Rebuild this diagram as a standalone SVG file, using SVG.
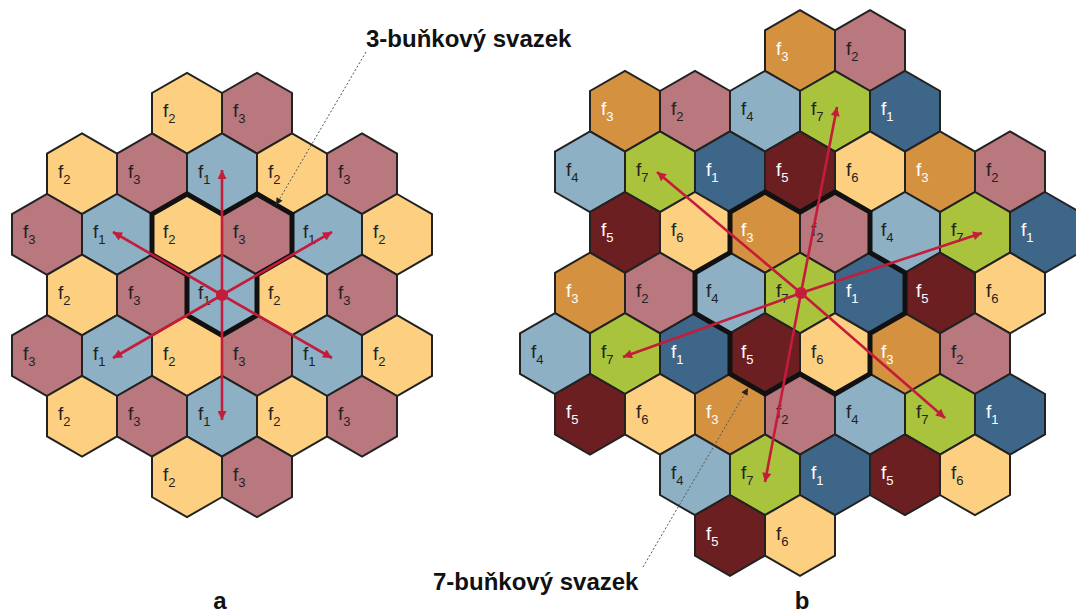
<svg xmlns="http://www.w3.org/2000/svg" xmlns:xlink="http://www.w3.org/1999/xlink" width="1076" height="616" viewBox="0 0 1076 616">
<style>
.hx{stroke:#222;stroke-width:2;stroke-linejoin:miter}
.c1a{fill:#8DB0C5}.c2a{fill:#FDD081}.c3a{fill:#B9777E}
.k1{fill:#3E6689}.k2{fill:#B9777E}.k3{fill:#D4913F}.k4{fill:#8DB0C5}.k5{fill:#6B1F20}.k6{fill:#FDD081}.k7{fill:#A9C33D}
text.l{font-family:"Liberation Sans",Arial,sans-serif;font-size:19px;fill:#222}
text.w{fill:#fff}
.sub{font-size:13px}
.cl{fill:none;stroke:#111;stroke-width:5;stroke-linejoin:miter}
.ar{stroke:#C41C3B;stroke-width:2.6;fill:none}
.ld{stroke:#555;stroke-width:1;stroke-dasharray:2 2;fill:none}
.cap{font-family:"Liberation Sans",Arial,sans-serif;font-weight:bold;font-size:24px;fill:#111}
</style>
<defs>
<path id="hx" d="M0,-40.4 L35,-20.2 L35,20.2 L0,40.4 L-35,20.2 L-35,-20.2 Z"/>
<marker id="ah" viewBox="0 0 10 10" refX="10" refY="5" markerWidth="13" markerHeight="9" markerUnits="userSpaceOnUse" orient="auto"><path d="M0,0 L10,5 L0,10 Z" fill="#C41C3B"/></marker>
<marker id="lh" viewBox="0 0 10 10" refX="10" refY="5" markerWidth="8" markerHeight="7" markerUnits="userSpaceOnUse" orient="auto"><path d="M0,0 L10,5 L0,10 Z" fill="#222"/></marker>
</defs>
<rect width="1076" height="616" fill="#fff"/>

<!-- Grid a -->
<g id="grid-a">
<g id="a1"><use href="#hx" x="187" y="113.2" class="hx c2a"/><text class="l" x="163" y="117">f<tspan class="sub" dy="6">2</tspan></text></g>
<g id="a2"><use href="#hx" x="257" y="113.2" class="hx c3a"/><text class="l" x="233" y="117">f<tspan class="sub" dy="6">3</tspan></text></g>

<g id="a3"><use href="#hx" x="82" y="173.8" class="hx c2a"/><text class="l" x="58" y="178">f<tspan class="sub" dy="6">2</tspan></text></g>
<g id="a4"><use href="#hx" x="152" y="173.8" class="hx c3a"/><text class="l" x="128" y="178">f<tspan class="sub" dy="6">3</tspan></text></g>
<g id="a5"><use href="#hx" x="222" y="173.8" class="hx c1a"/><text class="l" x="198" y="178">f<tspan class="sub" dy="6">1</tspan></text></g>
<g id="a6"><use href="#hx" x="292" y="173.8" class="hx c2a"/><text class="l" x="268" y="178">f<tspan class="sub" dy="6">2</tspan></text></g>
<g id="a7"><use href="#hx" x="362" y="173.8" class="hx c3a"/><text class="l" x="338" y="178">f<tspan class="sub" dy="6">3</tspan></text></g>

<g id="a8"><use href="#hx" x="47" y="234.4" class="hx c3a"/><text class="l" x="23" y="238">f<tspan class="sub" dy="6">3</tspan></text></g>
<g id="a9"><use href="#hx" x="117" y="234.4" class="hx c1a"/><text class="l" x="93" y="238">f<tspan class="sub" dy="6">1</tspan></text></g>
<g id="a10"><use href="#hx" x="187" y="234.4" class="hx c2a"/><text class="l" x="163" y="238">f<tspan class="sub" dy="6">2</tspan></text></g>
<g id="a11"><use href="#hx" x="257" y="234.4" class="hx c3a"/><text class="l" x="233" y="238">f<tspan class="sub" dy="6">3</tspan></text></g>
<g id="a12"><use href="#hx" x="327" y="234.4" class="hx c1a"/><text class="l" x="303" y="238">f<tspan class="sub" dy="6">1</tspan></text></g>
<g id="a13"><use href="#hx" x="397" y="234.4" class="hx c2a"/><text class="l" x="373" y="238">f<tspan class="sub" dy="6">2</tspan></text></g>

<g id="a14"><use href="#hx" x="82" y="295" class="hx c2a"/><text class="l" x="58" y="299">f<tspan class="sub" dy="6">2</tspan></text></g>
<g id="a15"><use href="#hx" x="152" y="295" class="hx c3a"/><text class="l" x="128" y="299">f<tspan class="sub" dy="6">3</tspan></text></g>
<g id="a16"><use href="#hx" x="222" y="295" class="hx c1a"/><text class="l" x="198" y="299">f<tspan class="sub" dy="6">1</tspan></text></g>
<g id="a17"><use href="#hx" x="292" y="295" class="hx c2a"/><text class="l" x="268" y="299">f<tspan class="sub" dy="6">2</tspan></text></g>
<g id="a18"><use href="#hx" x="362" y="295" class="hx c3a"/><text class="l" x="338" y="299">f<tspan class="sub" dy="6">3</tspan></text></g>

<g id="a19"><use href="#hx" x="47" y="355.6" class="hx c3a"/><text class="l" x="23" y="360">f<tspan class="sub" dy="6">3</tspan></text></g>
<g id="a20"><use href="#hx" x="117" y="355.6" class="hx c1a"/><text class="l" x="93" y="360">f<tspan class="sub" dy="6">1</tspan></text></g>
<g id="a21"><use href="#hx" x="187" y="355.6" class="hx c2a"/><text class="l" x="163" y="360">f<tspan class="sub" dy="6">2</tspan></text></g>
<g id="a22"><use href="#hx" x="257" y="355.6" class="hx c3a"/><text class="l" x="233" y="360">f<tspan class="sub" dy="6">3</tspan></text></g>
<g id="a23"><use href="#hx" x="327" y="355.6" class="hx c1a"/><text class="l" x="303" y="360">f<tspan class="sub" dy="6">1</tspan></text></g>
<g id="a24"><use href="#hx" x="397" y="355.6" class="hx c2a"/><text class="l" x="373" y="360">f<tspan class="sub" dy="6">2</tspan></text></g>

<g id="a25"><use href="#hx" x="82" y="416.2" class="hx c2a"/><text class="l" x="58" y="420">f<tspan class="sub" dy="6">2</tspan></text></g>
<g id="a26"><use href="#hx" x="152" y="416.2" class="hx c3a"/><text class="l" x="128" y="420">f<tspan class="sub" dy="6">3</tspan></text></g>
<g id="a27"><use href="#hx" x="222" y="416.2" class="hx c1a"/><text class="l" x="198" y="420">f<tspan class="sub" dy="6">1</tspan></text></g>
<g id="a28"><use href="#hx" x="292" y="416.2" class="hx c2a"/><text class="l" x="268" y="420">f<tspan class="sub" dy="6">2</tspan></text></g>
<g id="a29"><use href="#hx" x="362" y="416.2" class="hx c3a"/><text class="l" x="338" y="420">f<tspan class="sub" dy="6">3</tspan></text></g>

<g id="a30"><use href="#hx" x="187" y="476.8" class="hx c2a"/><text class="l" x="163" y="481">f<tspan class="sub" dy="6">2</tspan></text></g>
<g id="a31"><use href="#hx" x="257" y="476.8" class="hx c3a"/><text class="l" x="233" y="481">f<tspan class="sub" dy="6">3</tspan></text></g>
</g>

<!-- Grid b -->
<g id="grid-b">
<g id="b1"><use href="#hx" x="800" y="50.6" class="hx k3"/><text class="l w" x="776" y="55">f<tspan class="sub" dy="6">3</tspan></text></g>
<g id="b2"><use href="#hx" x="870" y="50.6" class="hx k2"/><text class="l" x="846" y="55">f<tspan class="sub" dy="6">2</tspan></text></g>

<g id="b3"><use href="#hx" x="625" y="111.2" class="hx k3"/><text class="l w" x="601" y="115">f<tspan class="sub" dy="6">3</tspan></text></g>
<g id="b4"><use href="#hx" x="695" y="111.2" class="hx k2"/><text class="l" x="671" y="115">f<tspan class="sub" dy="6">2</tspan></text></g>
<g id="b5"><use href="#hx" x="765" y="111.2" class="hx k4"/><text class="l" x="741" y="115">f<tspan class="sub" dy="6">4</tspan></text></g>
<g id="b6"><use href="#hx" x="835" y="111.2" class="hx k7"/><text class="l" x="811" y="115">f<tspan class="sub" dy="6">7</tspan></text></g>
<g id="b7"><use href="#hx" x="905" y="111.2" class="hx k1"/><text class="l w" x="881" y="115">f<tspan class="sub" dy="6">1</tspan></text></g>

<g id="b8"><use href="#hx" x="590" y="171.8" class="hx k4"/><text class="l" x="566" y="176">f<tspan class="sub" dy="6">4</tspan></text></g>
<g id="b9"><use href="#hx" x="660" y="171.8" class="hx k7"/><text class="l" x="636" y="176">f<tspan class="sub" dy="6">7</tspan></text></g>
<g id="b10"><use href="#hx" x="730" y="171.8" class="hx k1"/><text class="l w" x="706" y="176">f<tspan class="sub" dy="6">1</tspan></text></g>
<g id="b11"><use href="#hx" x="800" y="171.8" class="hx k5"/><text class="l w" x="776" y="176">f<tspan class="sub" dy="6">5</tspan></text></g>
<g id="b12"><use href="#hx" x="870" y="171.8" class="hx k6"/><text class="l" x="846" y="176">f<tspan class="sub" dy="6">6</tspan></text></g>
<g id="b13"><use href="#hx" x="940" y="171.8" class="hx k3"/><text class="l w" x="916" y="176">f<tspan class="sub" dy="6">3</tspan></text></g>
<g id="b14"><use href="#hx" x="1010" y="171.8" class="hx k2"/><text class="l" x="986" y="176">f<tspan class="sub" dy="6">2</tspan></text></g>

<g id="b15"><use href="#hx" x="625" y="232.4" class="hx k5"/><text class="l w" x="601" y="236">f<tspan class="sub" dy="6">5</tspan></text></g>
<g id="b16"><use href="#hx" x="695" y="232.4" class="hx k6"/><text class="l" x="671" y="236">f<tspan class="sub" dy="6">6</tspan></text></g>
<g id="b17"><use href="#hx" x="765" y="232.4" class="hx k3"/><text class="l w" x="741" y="236">f<tspan class="sub" dy="6">3</tspan></text></g>
<g id="b18"><use href="#hx" x="835" y="232.4" class="hx k2"/><text class="l" x="811" y="236">f<tspan class="sub" dy="6">2</tspan></text></g>
<g id="b19"><use href="#hx" x="905" y="232.4" class="hx k4"/><text class="l" x="881" y="236">f<tspan class="sub" dy="6">4</tspan></text></g>
<g id="b20"><use href="#hx" x="975" y="232.4" class="hx k7"/><text class="l" x="951" y="236">f<tspan class="sub" dy="6">7</tspan></text></g>
<g id="b21"><use href="#hx" x="1045" y="232.4" class="hx k1"/><text class="l w" x="1021" y="236">f<tspan class="sub" dy="6">1</tspan></text></g>

<g id="b22"><use href="#hx" x="590" y="293" class="hx k3"/><text class="l w" x="566" y="297">f<tspan class="sub" dy="6">3</tspan></text></g>
<g id="b23"><use href="#hx" x="660" y="293" class="hx k2"/><text class="l" x="636" y="297">f<tspan class="sub" dy="6">2</tspan></text></g>
<g id="b24"><use href="#hx" x="730" y="293" class="hx k4"/><text class="l" x="706" y="297">f<tspan class="sub" dy="6">4</tspan></text></g>
<g id="b25"><use href="#hx" x="800" y="293" class="hx k7"/><text class="l" x="776" y="297">f<tspan class="sub" dy="6">7</tspan></text></g>
<g id="b26"><use href="#hx" x="870" y="293" class="hx k1"/><text class="l w" x="846" y="297">f<tspan class="sub" dy="6">1</tspan></text></g>
<g id="b27"><use href="#hx" x="940" y="293" class="hx k5"/><text class="l w" x="916" y="297">f<tspan class="sub" dy="6">5</tspan></text></g>
<g id="b28"><use href="#hx" x="1010" y="293" class="hx k6"/><text class="l" x="986" y="297">f<tspan class="sub" dy="6">6</tspan></text></g>

<g id="b29"><use href="#hx" x="555" y="353.6" class="hx k4"/><text class="l" x="531" y="358">f<tspan class="sub" dy="6">4</tspan></text></g>
<g id="b30"><use href="#hx" x="625" y="353.6" class="hx k7"/><text class="l" x="601" y="358">f<tspan class="sub" dy="6">7</tspan></text></g>
<g id="b31"><use href="#hx" x="695" y="353.6" class="hx k1"/><text class="l w" x="671" y="358">f<tspan class="sub" dy="6">1</tspan></text></g>
<g id="b32"><use href="#hx" x="765" y="353.6" class="hx k5"/><text class="l w" x="741" y="358">f<tspan class="sub" dy="6">5</tspan></text></g>
<g id="b33"><use href="#hx" x="835" y="353.6" class="hx k6"/><text class="l" x="811" y="358">f<tspan class="sub" dy="6">6</tspan></text></g>
<g id="b34"><use href="#hx" x="905" y="353.6" class="hx k3"/><text class="l w" x="881" y="358">f<tspan class="sub" dy="6">3</tspan></text></g>
<g id="b35"><use href="#hx" x="975" y="353.6" class="hx k2"/><text class="l" x="951" y="358">f<tspan class="sub" dy="6">2</tspan></text></g>

<g id="b36"><use href="#hx" x="590" y="414.2" class="hx k5"/><text class="l w" x="566" y="418">f<tspan class="sub" dy="6">5</tspan></text></g>
<g id="b37"><use href="#hx" x="660" y="414.2" class="hx k6"/><text class="l" x="636" y="418">f<tspan class="sub" dy="6">6</tspan></text></g>
<g id="b38"><use href="#hx" x="730" y="414.2" class="hx k3"/><text class="l w" x="706" y="418">f<tspan class="sub" dy="6">3</tspan></text></g>
<g id="b39"><use href="#hx" x="800" y="414.2" class="hx k2"/><text class="l" x="776" y="418">f<tspan class="sub" dy="6">2</tspan></text></g>
<g id="b40"><use href="#hx" x="870" y="414.2" class="hx k4"/><text class="l" x="846" y="418">f<tspan class="sub" dy="6">4</tspan></text></g>
<g id="b41"><use href="#hx" x="940" y="414.2" class="hx k7"/><text class="l" x="916" y="418">f<tspan class="sub" dy="6">7</tspan></text></g>
<g id="b42"><use href="#hx" x="1010" y="414.2" class="hx k1"/><text class="l w" x="986" y="418">f<tspan class="sub" dy="6">1</tspan></text></g>

<g id="b43"><use href="#hx" x="695" y="474.8" class="hx k4"/><text class="l" x="671" y="479">f<tspan class="sub" dy="6">4</tspan></text></g>
<g id="b44"><use href="#hx" x="765" y="474.8" class="hx k7"/><text class="l" x="741" y="479">f<tspan class="sub" dy="6">7</tspan></text></g>
<g id="b45"><use href="#hx" x="835" y="474.8" class="hx k1"/><text class="l w" x="811" y="479">f<tspan class="sub" dy="6">1</tspan></text></g>
<g id="b46"><use href="#hx" x="905" y="474.8" class="hx k5"/><text class="l w" x="881" y="479">f<tspan class="sub" dy="6">5</tspan></text></g>
<g id="b47"><use href="#hx" x="975" y="474.8" class="hx k6"/><text class="l" x="951" y="479">f<tspan class="sub" dy="6">6</tspan></text></g>

<g id="b48"><use href="#hx" x="730" y="535.4" class="hx k5"/><text class="l w" x="706" y="540">f<tspan class="sub" dy="6">5</tspan></text></g>
<g id="b49"><use href="#hx" x="800" y="535.4" class="hx k6"/><text class="l" x="776" y="540">f<tspan class="sub" dy="6">6</tspan></text></g>
</g>

<!-- cluster outlines -->
<g id="clusters">
<path class="cl" d="M152,214.2 L187,194 L222,214.2 L257,194 L292,214.2 L292,254.6 L257,274.8 L257,315.2 L222,335.4 L187,315.2 L187,274.8 L152,254.6 Z"/>
<path class="cl" d="M730,212.2 L765,192 L800,212.2 L835,192 L870,212.2 L870,252.6 L905,272.8 L905,313.2 L870,333.4 L870,373.8 L835,394 L800,373.8 L765,394 L730,373.8 L730,333.4 L695,313.2 L695,272.8 L730,252.6 Z"/>
</g>

<!-- connectors -->
<g id="connectors">
<line class="ar" x1="222" y1="295" x2="222" y2="170" marker-end="url(#ah)"/>
<line class="ar" x1="222" y1="295" x2="113" y2="232" marker-end="url(#ah)"/>
<line class="ar" x1="222" y1="295" x2="332" y2="232" marker-end="url(#ah)"/>
<line class="ar" x1="222" y1="295" x2="113" y2="358" marker-end="url(#ah)"/>
<line class="ar" x1="222" y1="295" x2="332" y2="358" marker-end="url(#ah)"/>
<line class="ar" x1="222" y1="295" x2="222" y2="420" marker-end="url(#ah)"/>
<circle cx="222" cy="295" r="6" fill="#C41C3B"/>

<line class="ar" x1="801" y1="293" x2="837" y2="107" marker-end="url(#ah)"/>
<line class="ar" x1="801" y1="293" x2="982" y2="233" marker-end="url(#ah)"/>
<line class="ar" x1="801" y1="293" x2="945" y2="418" marker-end="url(#ah)"/>
<line class="ar" x1="801" y1="293" x2="765" y2="482" marker-end="url(#ah)"/>
<line class="ar" x1="801" y1="293" x2="623" y2="357" marker-end="url(#ah)"/>
<line class="ar" x1="801" y1="293" x2="657" y2="172" marker-end="url(#ah)"/>
<circle cx="801" cy="293" r="6" fill="#C41C3B"/>

<line class="ld" x1="366" y1="52" x2="276" y2="205" marker-end="url(#lh)"/>
<line class="ld" x1="643" y1="567" x2="748" y2="388" marker-end="url(#lh)"/>
</g>

<g id="captions">
<text class="cap" x="366" y="47">3-buňkový svazek</text>
<text class="cap" x="433" y="590">7-buňkový svazek</text>
<text class="cap" x="220" y="609" text-anchor="middle">a</text>
<text class="cap" x="802" y="609" text-anchor="middle">b</text>
</g>
</svg>
